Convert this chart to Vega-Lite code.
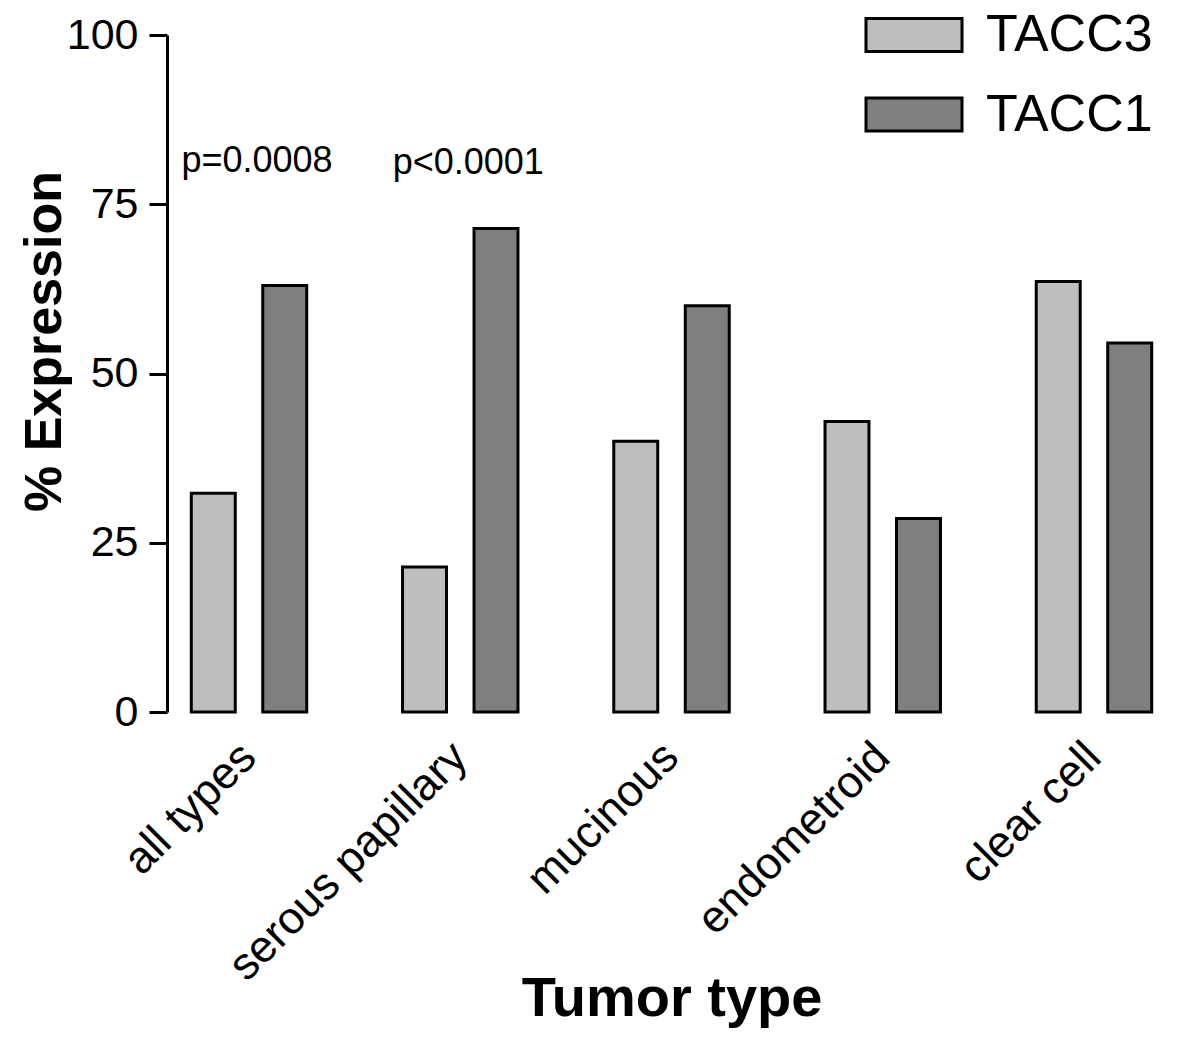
{
  "$schema": "https://vega.github.io/schema/vega-lite/v6.json",
  "width": 1015,
  "height": 677,
  "autosize": {"type": "none"},
  "padding": {"left": 167, "top": 35, "right": 18, "bottom": 327},
  "background": "white",
  "config": {
    "view": {"stroke": null},
    "font": "Liberation Sans",
    "axis": {"labelColor": "black", "titleColor": "black", "labelFont": "Liberation Sans", "titleFont": "Liberation Sans"}
  },
  "datasets": {
    "bars": [
      {"tumor": "all types", "gene": "TACC3", "pct": 32.3},
      {"tumor": "all types", "gene": "TACC1", "pct": 63.0},
      {"tumor": "serous papillary", "gene": "TACC3", "pct": 21.4},
      {"tumor": "serous papillary", "gene": "TACC1", "pct": 71.4},
      {"tumor": "mucinous", "gene": "TACC3", "pct": 40.0},
      {"tumor": "mucinous", "gene": "TACC1", "pct": 60.0},
      {"tumor": "endometroid", "gene": "TACC3", "pct": 42.9},
      {"tumor": "endometroid", "gene": "TACC1", "pct": 28.6},
      {"tumor": "clear cell", "gene": "TACC3", "pct": 63.6},
      {"tumor": "clear cell", "gene": "TACC1", "pct": 54.5}
    ],
    "pvals": [
      {"tumor": "all types", "label": "p=0.0008", "ypos": 79.8},
      {"tumor": "serous papillary", "label": "p<0.0001", "ypos": 79.4}
    ]
  },
  "layer": [
    {
      "data": {"name": "bars"},
      "mark": {"type": "bar", "stroke": "black", "strokeWidth": 3},
      "encoding": {
        "x": {
          "field": "tumor", "type": "nominal",
          "sort": ["all types", "serous papillary", "mucinous", "endometroid", "clear cell"],
          "scale": {"range": [-23.6, 1032.6], "paddingInner": 0, "paddingOuter": 0},
          "axis": {
            "domain": false, "ticks": false, "labelAngle": -45, "labelFontSize": 45, "labelPadding": 22,
            "labelLimit": 0, "labelOffset": -16,
            "title": "Tumor type", "titleFontSize": 56, "titleFontWeight": "bold",
            "titleY": 303, "titleBaseline": "alphabetic"
          }
        },
        "xOffset": {
          "field": "gene", "type": "nominal", "sort": ["TACC3", "TACC1"],
          "scale": {"paddingInner": 0.385, "paddingOuter": 0.67}
        },
        "y": {
          "field": "pct", "type": "quantitative",
          "scale": {"domain": [0, 100], "nice": false},
          "axis": {
            "values": [0, 25, 50, 75, 100], "grid": false,
            "tickSize": 18, "tickWidth": 3, "tickColor": "black",
            "domainWidth": 3, "domainColor": "black",
            "labelFontSize": 43, "labelPadding": 11,
            "title": "% Expression", "titleFontSize": 52, "titleFontWeight": "bold",
            "titleX": -107, "titleY": 306, "titleAlign": "center", "titleBaseline": "alphabetic", "titleAngle": -90
          }
        },
        "color": {
          "field": "gene", "type": "nominal",
          "scale": {"domain": ["TACC3", "TACC1"], "range": ["#bebebe", "#7f7f7f"]},
          "legend": {
            "title": null, "orient": "none", "legendX": 721, "legendY": -26,
            "symbolType": "M-2.91,-1H2.91V1H-2.91Z", "symbolSize": 1089,
            "symbolStrokeColor": "black", "symbolStrokeWidth": 3, "symbolOpacity": 1,
            "labelFont": "Liberation Sans", "labelFontSize": 52, "labelColor": "black", "labelLimit": 0,
            "labelOffset": 46, "rowPadding": 27.5, "padding": 0
          }
        }
      }
    },
    {
      "mark": {"type": "rule", "stroke": "black", "strokeWidth": 3},
      "encoding": {"y": {"datum": 0}}
    },
    {
      "data": {"name": "pvals"},
      "mark": {"type": "text", "font": "Liberation Sans", "fontSize": 36, "color": "black", "align": "center", "baseline": "alphabetic", "dx": 8},
      "encoding": {
        "x": {"field": "tumor", "type": "nominal", "sort": ["all types", "serous papillary", "mucinous", "endometroid", "clear cell"]},
        "y": {"field": "ypos", "type": "quantitative"},
        "text": {"field": "label"}
      }
    }
  ]
}
